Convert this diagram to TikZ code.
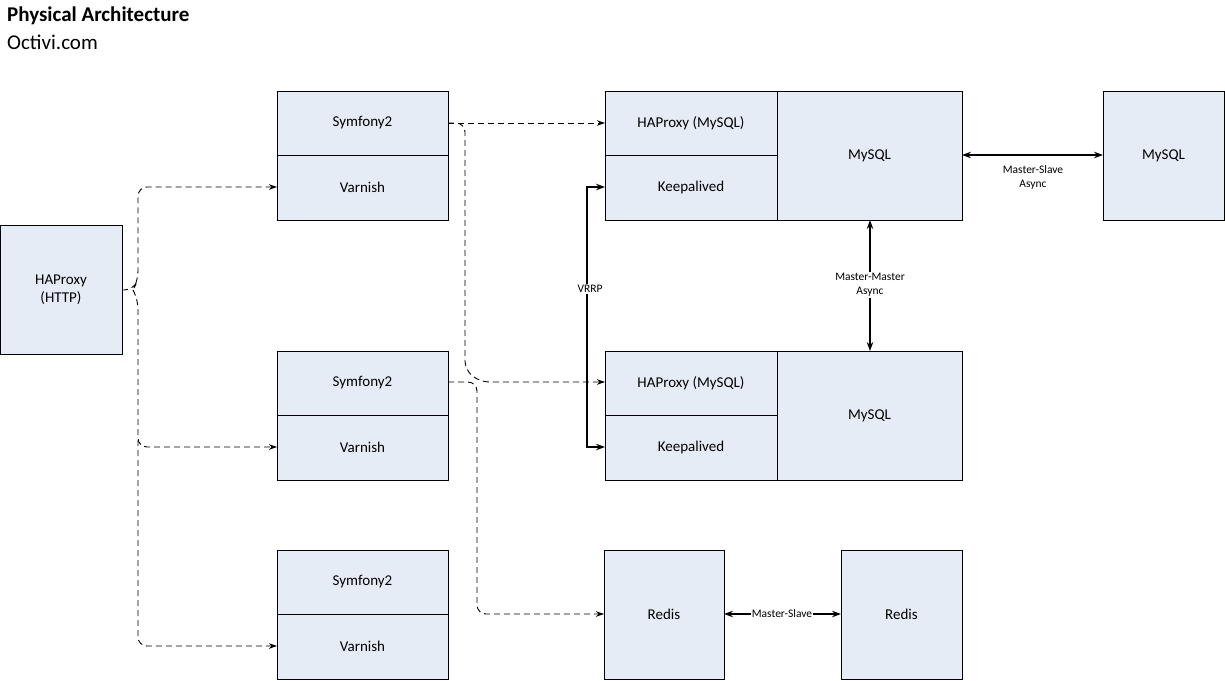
\documentclass[tikz,border=0pt]{standalone}
\usepackage{fontspec}
\setmainfont{Carlito}
\usetikzlibrary{arrows.meta}
\definecolor{boxfill}{RGB}{230,236,246}
\begin{document}
\begin{tikzpicture}[x=1pt,y=-1pt,
  box/.style={draw=black,fill=boxfill,line width=0.9pt},
  lbl/.style={font=\fontsize{15}{18}\selectfont,align=center},
  sm/.style={font=\fontsize{11.5}{14}\selectfont,align=center},
  dconn/.style={line width=0.9pt,dash pattern=on 6pt off 4pt,-{Stealth[length=8pt,width=5.5pt]},rounded corners=9pt},
  both/.style={line width=1.2pt,{Stealth[length=9pt,width=6.5pt]}-{Stealth[length=9pt,width=6.5pt]}}]
\useasboundingbox (0,0) rectangle (1225,680);
\node[anchor=west,font=\fontsize{21}{24}\selectfont\bfseries,inner sep=0pt] (t1) at (7,16) {Physical Architecture};
\node[anchor=west,font=\fontsize{21}{24}\selectfont,inner sep=0pt] (t2) at (7,42) {Octivi.com};
% HAProxy HTTP
\draw[box] (0.5,225) rectangle (122,354);
\node[lbl] (hap) at (61,289.5) {HAProxy\\(HTTP)};
% Symfony groups
\foreach \n/\y in {1/91,2/351,3/550}{
  \draw[box] (277,\y) rectangle (448,\y+64);
  \draw[box] (277,\y+64) rectangle (448,\y+129);
  \node[lbl] (s\n) at (362.5,\y+32) {Symfony2};
  \node[lbl] (v\n) at (362.5,\y+96.5) {Varnish};
}
% MySQL clusters
\foreach \n/\y in {1/91,2/351}{
  \draw[box] (605,\y) rectangle (777,\y+64);
  \draw[box] (605,\y+64) rectangle (777,\y+129);
  \draw[box] (777,\y) rectangle (962,\y+129);
  \node[lbl] (hm\n) at (691,\y+32) {HAProxy (MySQL)};
  \node[lbl] (k\n) at (691,\y+96.5) {Keepalived};
  \node[lbl] (m\n) at (869.5,\y+64.5) {MySQL};
}
\draw[box] (1103,91) rectangle (1224,220);
\node[lbl] (m3) at (1163.5,155.5) {MySQL};
\draw[box] (604,550) rectangle (724,679);
\node[lbl] (r1) at (664,614.5) {Redis};
\draw[box] (841,550) rectangle (962,679);
\node[lbl] (r2) at (901.5,614.5) {Redis};
% coordinates
\coordinate (hapo) at (122,290);
\coordinate (v1i) at (277,187);
\coordinate (v2i) at (277,447);
\coordinate (v3i) at (277,646);
\coordinate (s1o) at (448,123);
\coordinate (s2o) at (448,382);
\coordinate (hm1i) at (605,123);
\coordinate (hm2i) at (605,382);
\coordinate (r1i) at (604,614);
% HTTP brace
\draw[dconn] (hapo) -- (133,290) -- (138,280) -- (138,187) -- (v1i);
\draw[dconn] (133,290) -- (138,300) -- (138,447) -- (v2i);
\draw[dconn] (138,440) -- (138,646) -- (v3i);
% Symfony to HAProxy MySQL
\draw[dconn] (s1o) -- (hm1i);
\draw[dconn] (s1o) -- (465,123) -- (465,370) -- (480,382) -- (hm2i);
\draw[dconn] (s2o) -- (477,382) -- (477,614) -- (r1i);
% VRRP
\coordinate (k1i) at (605,187);
\coordinate (k2i) at (605,447);
\draw[both] (k1i) -- (587,187) -- (587,447) -- (k2i);
\node[sm,fill=white,inner sep=1pt] (vrrp) at (590,289) {VRRP};
% Master-Master
\draw[both] (870,220) -- (870,351);
\node[sm,fill=white,inner sep=1pt] (mm) at (870,285) {Master-Master\\Async};
% Master-Slave async
\draw[both] (962,155) -- (1103,155);
\node[sm] (ms) at (1033,177) {Master-Slave\\Async};
% Redis
\draw[both] (724,614) -- (841,614);
\node[sm,fill=white,inner sep=1pt] (rms) at (782,614) {Master-Slave};
\end{tikzpicture}
\end{document}
